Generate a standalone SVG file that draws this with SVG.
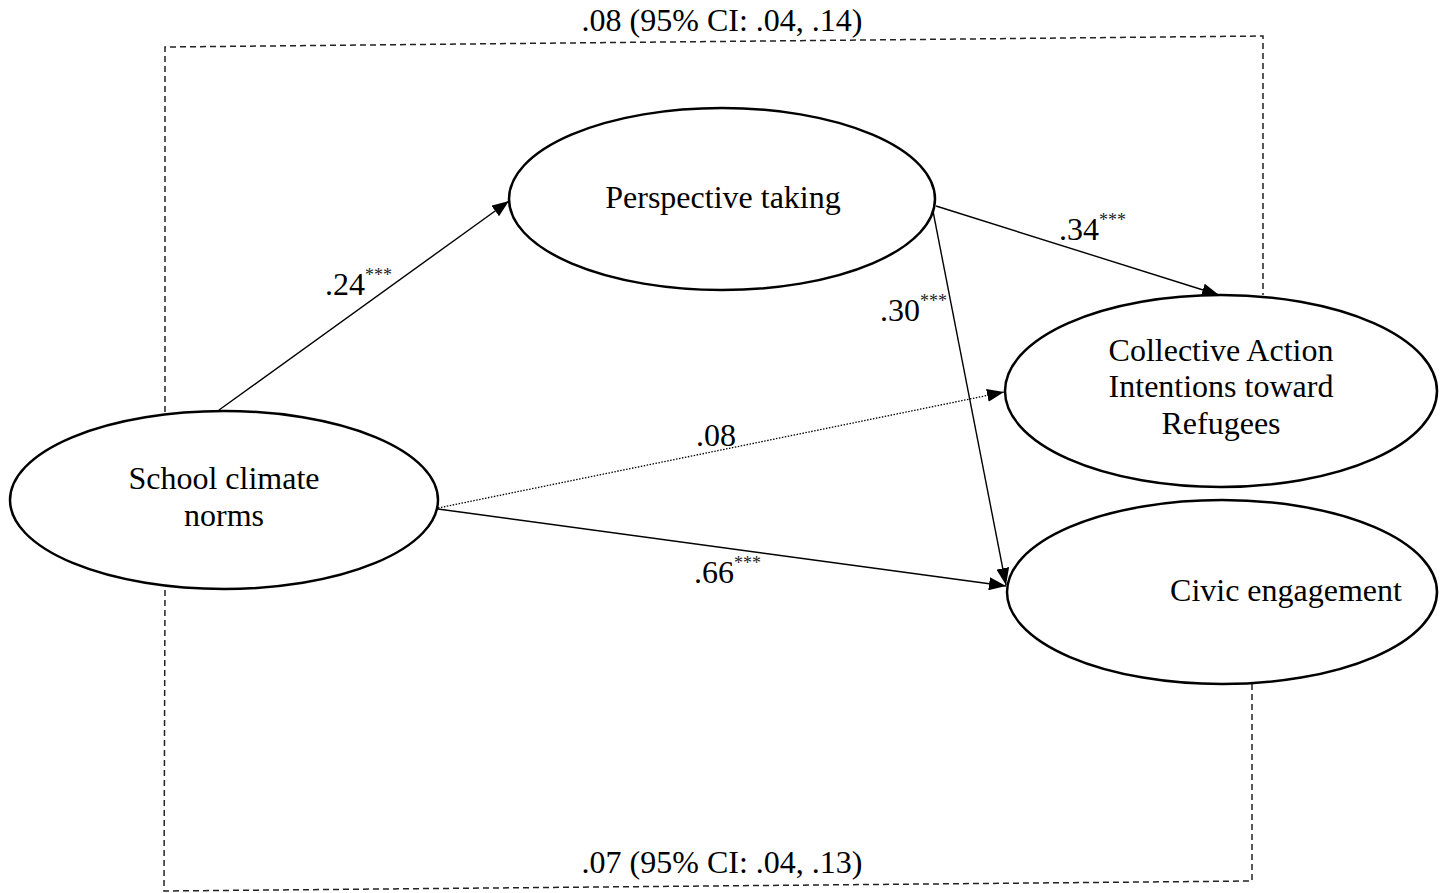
<svg xmlns="http://www.w3.org/2000/svg" width="1441" height="893" viewBox="0 0 1441 893">
<style>
text{font-family:"Liberation Serif","Times New Roman",serif;fill:#000}
.lbl{font-size:32px}
.sup{font-size:18px;fill:#222}
.node{fill:#fff;stroke:#000;stroke-width:2.5}
.box{fill:none;stroke:#222;stroke-width:1.5;stroke-dasharray:6,4}
.edge{fill:none;stroke:#000;stroke-width:1.4}
.dot{fill:none;stroke:#000;stroke-width:1.3;stroke-dasharray:1.5,1.5}
</style>
<defs>
<marker id="ah" viewBox="0 0 17 13" refX="17" refY="6.5" markerWidth="17" markerHeight="13" markerUnits="userSpaceOnUse" orient="auto">
<path d="M0,0 L17,6.5 L0,13 Z" fill="#000"/>
</marker>
</defs>
<rect width="1441" height="893" fill="#fff"/>
<g id="indirect-box">
<polyline class="box" points="165,412 165,47 1263,36 1263,295"/>
<polyline class="box" points="165,590 164,891 1252,881 1252,684"/>
<text class="lbl" x="722" y="31" text-anchor="middle">.08 (95% CI: .04, .14)</text>
<text class="lbl" x="722" y="873" text-anchor="middle">.07 (95% CI: .04, .13)</text>
</g>
<g id="connectors">
<line class="edge" x1="219" y1="410" x2="509" y2="201" marker-end="url(#ah)"/>
<line class="edge" x1="936" y1="206" x2="1219" y2="295" marker-end="url(#ah)"/>
<line class="edge" x1="932" y1="206" x2="1006" y2="585" marker-end="url(#ah)"/>
<line class="dot" x1="438" y1="508" x2="1004" y2="392" marker-end="url(#ah)"/>
<line class="edge" x1="438" y1="509" x2="1006" y2="586" marker-end="url(#ah)"/>
<text class="lbl" x="325" y="295">.24<tspan class="sup" dy="-14">***</tspan></text>
<text class="lbl" x="1059" y="240">.34<tspan class="sup" dy="-14">***</tspan></text>
<text class="lbl" x="880" y="321">.30<tspan class="sup" dy="-14">***</tspan></text>
<text class="lbl" x="696" y="446">.08</text>
<text class="lbl" x="694" y="583">.66<tspan class="sup" dy="-14">***</tspan></text>
</g>
<g id="school">
<ellipse class="node" cx="224" cy="500" rx="214" ry="89"/>
<text class="lbl" x="224" y="489" text-anchor="middle">School climate</text>
<text class="lbl" x="224" y="526" text-anchor="middle">norms</text>
</g>
<g id="perspective">
<ellipse class="node" cx="722" cy="199" rx="213" ry="91"/>
<text class="lbl" x="723" y="208" text-anchor="middle">Perspective taking</text>
</g>
<g id="collective">
<ellipse class="node" cx="1221" cy="391" rx="216" ry="96"/>
<text class="lbl" x="1221" y="361" text-anchor="middle">Collective Action</text>
<text class="lbl" x="1221" y="397" text-anchor="middle">Intentions toward</text>
<text class="lbl" x="1221" y="434" text-anchor="middle">Refugees</text>
</g>
<g id="civic">
<ellipse class="node" cx="1222" cy="592" rx="215" ry="92"/>
<text class="lbl" x="1286" y="601" text-anchor="middle">Civic engagement</text>
</g>
</svg>
